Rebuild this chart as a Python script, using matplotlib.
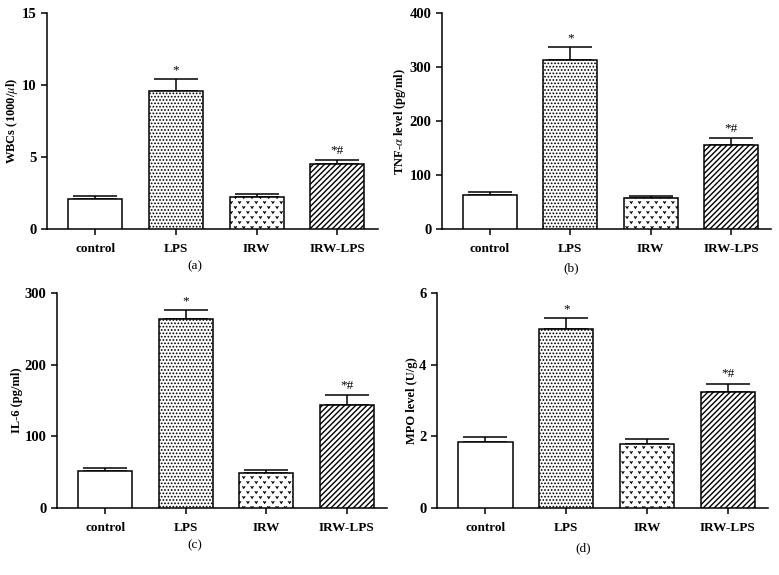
import numpy as np
import matplotlib
matplotlib.use("Agg")
import matplotlib.pyplot as plt
import matplotlib.hatch as mhatch
from matplotlib.path import Path

# groups and values
groupes = ["control", "LPS", "IRW", "IRW-LPS"]

wbc = [2.07, 9.6, 2.2, 4.5]
wbc_err = [0.2, 0.8, 0.22, 0.3]

tnf = [62, 314, 57, 155]
tnf_err = [6, 23, 4, 14]

il6 = [52, 264, 49, 144]
il6_err = [4, 12, 4, 13]

mpo = [1.84, 4.99, 1.79, 3.24]
mpo_err = [0.13, 0.31, 0.13, 0.23]

marcas = ["", "*", "", "*#"]

paneles = [
    ("(a)", "WBCs (1000/$\\mu$l)", wbc, wbc_err, (0, 15), [0, 5, 10, 15]),
    ("(b)", "TNF-$\\alpha$ level (pg/ml)", tnf, tnf_err, (0, 400), [0, 100, 200, 300, 400]),
    ("(c)", "IL-6 (pg/ml)", il6, il6_err, (0, 300), [0, 100, 200, 300]),
    ("(d)", "MPO level (U/g)", mpo, mpo_err, (0, 6), [0, 2, 4, 6]),
]


# small "v" hatch pattern for the IRW bars
class VeeHatch(mhatch.HatchPatternBase):
    def __init__(self, hatch, density):
        n = hatch.count('v') * density
        self.ncols = n
        self.nrows = 2 * int(round(n * 0.8))
        self.num_vertices = self.ncols * self.nrows * 3

    def set_vertices_and_codes(self, vertices, codes):
        w = 0.3 / self.ncols
        h = 0.38 / self.nrows
        forma = np.array([[-w / 2, h / 2], [0, -h / 2], [w / 2, h / 2]])
        cods = np.array([Path.MOVETO, Path.LINETO, Path.LINETO])
        vs, cs = [], []
        for r in range(self.nrows):
            yy = (r + 0.5) / self.nrows
            desp = 0.25 if r % 2 == 0 else 0.75
            for c in range(self.ncols):
                xx = (c + desp) / self.ncols
                vs.append(forma + [xx, yy])
                cs.append(cods)
        np.concatenate(vs, out=vertices)
        np.concatenate(cs, out=codes)


mhatch._hatch_types.append(VeeHatch)
import warnings
warnings.filterwarnings("ignore")

plt.rcParams['font.family'] = ['Liberation Serif', 'DejaVu Serif']
plt.rcParams['mathtext.fontset'] = 'stix'

rayados = [None, '.....', 'vv', '//////']
grosor_rayado = [1.0, 0.8, 0.6, 1.0]
color_rayado = ['black', '#444444', '#333333', 'black']

fig = plt.figure(figsize=(7.79, 5.75), dpi=100)
cajas = [
    [0.060, 0.602, 0.425, 0.375],
    [0.567, 0.602, 0.423, 0.375],
    [0.073, 0.117, 0.424, 0.373],
    [0.561, 0.117, 0.425, 0.373],
]
pos_letra = [(0.250, 0.537), (0.733, 0.534), (0.250, 0.052), (0.748, 0.047)]

x = np.arange(len(groupes))

for k, (letra, ylab, valores, errores, lim, ticks) in enumerate(paneles):
    ax = fig.add_axes(cajas[k])
    for i in range(len(groupes)):
        plt.rcParams['hatch.linewidth'] = grosor_rayado[i]
        plt.rcParams['hatch.color'] = color_rayado[i]
        ax.bar(x[i], valores[i], width=0.67, color='white', edgecolor='black',
               linewidth=1.1, hatch=rayados[i], zorder=3)
    ax.errorbar(x, valores, yerr=[np.zeros(len(x)), errores], fmt='none',
                ecolor='black', elinewidth=1.1, capsize=16, capthick=1.1, zorder=2)
    for i in range(len(groupes)):
        if marcas[i]:
            ax.text(x[i], valores[i] + errores[i] + (lim[1] * 0.015), marcas[i],
                    ha='center', va='bottom', fontsize=9.5)
    ax.set_xlim(-0.6, 3.5)
    ax.set_ylim(*lim)
    ax.set_yticks(ticks)
    ax.set_xticks(x)
    ax.set_xticklabels(groupes, fontweight='bold', fontsize=9.5)
    for t in ax.get_yticklabels():
        t.set_fontweight('bold')
        t.set_fontsize(10.5)
    ax.set_ylabel(ylab, fontweight='bold', fontsize=9, labelpad=1)
    ax.spines['top'].set_visible(False)
    ax.spines['right'].set_visible(False)
    ax.spines['left'].set_linewidth(1.1)
    ax.spines['bottom'].set_linewidth(1.1)
    ax.tick_params(direction='out', length=4.5, width=1.1, pad=3)
    ax.tick_params(axis='x', pad=6)
    fig.text(pos_letra[k][0], pos_letra[k][1], letra, ha='center', va='center', fontsize=9.5)

fig.savefig("out.png", dpi=100)
